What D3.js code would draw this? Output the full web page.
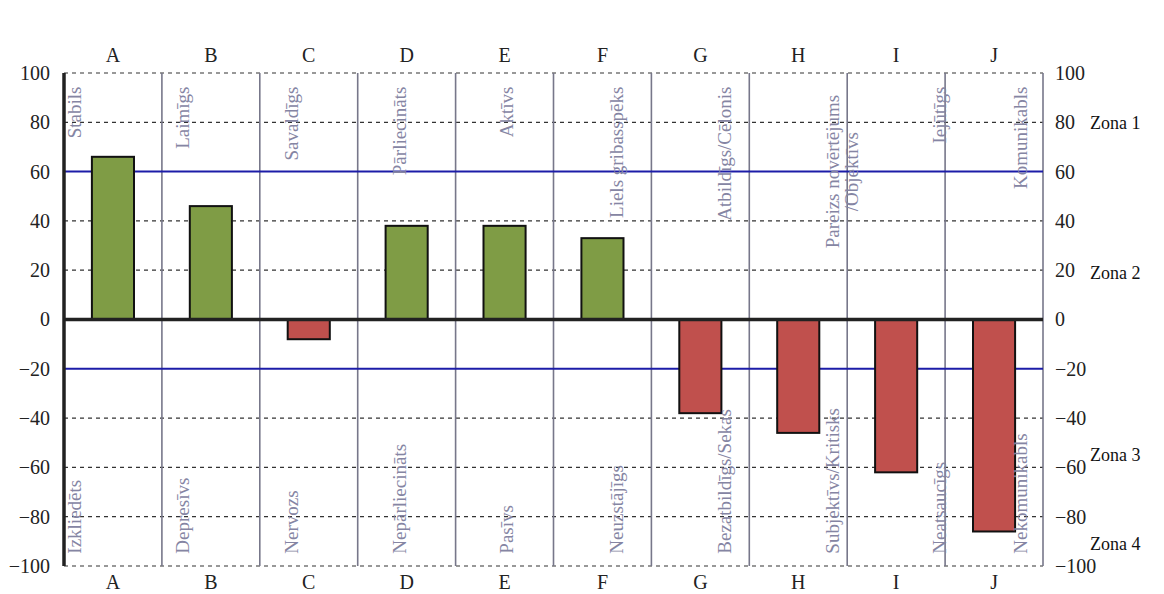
<html>
<head>
<meta charset="utf-8">
<title>Zonas</title>
<style>
body { margin: 0; background: #fff; }
svg text { font-family: "Liberation Serif", "DejaVu Serif", serif; }
.tick-lbl { font-size: 20px; fill: #222; }
.col-lbl { font-size: 20px; fill: #222; text-anchor: middle; }
.zone-lbl { font-size: 18px; fill: #111; }
.trait { font-size: 19px; fill: #8585a3; }
.grid line { stroke: #333; stroke-width: 1.2; stroke-dasharray: 4 4; }
.divider { stroke: #77778a; stroke-width: 1.6; }
.limit { stroke: #1c1ca8; stroke-width: 2; }
.bar { stroke: #111; stroke-width: 2; }
</style>
</head>
<body>
<svg id="plot" width="1164" height="594"></svg>
<script src="https://cdn.jsdelivr.net/npm/d3@7/dist/d3.min.js"></script>
<script>
// columns and bar values
const columns = ['A', 'B', 'C', 'D', 'E', 'F', 'G', 'H', 'I', 'J'];
const values = [66, 46, -8, 38, 38, 33, -38, -46, -62, -86];

// trait names: positive pole on top, negative pole below
const topTraits = [
  ['Stabils'], ['Laimīgs'], ['Savaldīgs'], ['Pārliecināts'], ['Aktīvs'],
  ['Liels gribasspēks'], ['Atbildīgs/Cēlonis'], ['Pareizs novērtējums', '/Objektīvs'],
  ['Iejūtīgs'], ['Komunikabls']
];
const bottomTraits = [
  'Izkliedēts', 'Depresīvs', 'Nervozs', 'Nepārliecināts', 'Pasīvs',
  'Neuzstājīgs', 'Bezatbildīgs/Sekas', 'Subjektīvs/Kritisks', 'Neatsaucīgs', 'Nekomunikabls'
];

const yTicks = [100, 80, 60, 40, 20, 0, -20, -40, -60, -80, -100];
const dashedAt = [100, 80, 40, 20, -40, -60, -80, -100];
const limits = [60, -20];

const zoneNames = ['Zona 1', 'Zona 2', 'Zona 3', 'Zona 4'];
const zoneAt = [80, 19, -55, -91];

// the trait text boxes sit on their own grid (in column units)
const traitSlot = [0.11, 1.22, 2.33, 3.43, 4.53, 5.65, 6.75, 7.85, 8.95, 9.78];

const svg = d3.select('#plot');
const plotL = 64, plotR = 1043, plotT = 73, plotB = 566;

const x = d3.scaleBand().domain(columns).range([plotL, plotR]).padding(0);
const y = d3.scaleLinear().domain([-100, 100]).range([plotB, plotT]);
const slot = d3.scaleLinear().domain([0, 10]).range([plotL, plotR]);

// dashed gridlines
svg.append('g').attr('class', 'grid')
  .selectAll('line').data(dashedAt).join('line')
  .attr('x1', plotL).attr('x2', plotR)
  .attr('y1', d => y(d)).attr('y2', d => y(d));

// column dividers
svg.append('g').selectAll('line')
  .data(columns.slice(1).map(c => x(c)).concat([plotR]))
  .join('line').attr('class', 'divider')
  .attr('x1', d => d).attr('x2', d => d)
  .attr('y1', y(100)).attr('y2', y(-100));

// blue limit lines
svg.append('g').selectAll('line').data(limits).join('line')
  .attr('class', 'limit')
  .attr('x1', plotL).attr('x2', plotR)
  .attr('y1', d => y(d)).attr('y2', d => y(d));

// bars
const bw = x.bandwidth() * 0.43;
svg.append('g').selectAll('rect').data(values).join('rect')
  .attr('class', 'bar')
  .attr('x', (d, i) => x(columns[i]) + (x.bandwidth() - bw) / 2)
  .attr('width', bw)
  .attr('y', d => y(Math.max(0, d)))
  .attr('height', d => Math.abs(y(d) - y(0)))
  .attr('fill', d => d >= 0 ? '#7f9c45' : '#c0504d');

// zero line and left axis
svg.append('line').attr('x1', plotL).attr('x2', plotR)
  .attr('y1', y(0)).attr('y2', y(0))
  .attr('stroke', '#222').attr('stroke-width', 3.5);
svg.append('line').attr('x1', plotL).attr('x2', plotL)
  .attr('y1', y(100)).attr('y2', y(-100))
  .attr('stroke', '#222').attr('stroke-width', 3.5);

// value axes, both sides
const yl = d3.axisLeft(y).tickValues(yTicks).tickSize(0).tickPadding(14);
const yr = d3.axisRight(y).tickValues(yTicks).tickSize(0).tickPadding(12);
svg.append('g').attr('transform', `translate(${plotL},0)`).call(yl)
  .call(g => g.select('.domain').remove());
svg.append('g').attr('transform', `translate(${plotR},0)`).call(yr)
  .call(g => g.select('.domain').remove());

// column letters on top and bottom
const xt = d3.axisTop(x).tickSize(0).tickPadding(11);
const xb = d3.axisBottom(x).tickSize(0).tickPadding(9);
svg.append('g').attr('transform', `translate(0,${plotT})`).call(xt)
  .call(g => g.select('.domain').remove());
svg.append('g').attr('transform', `translate(0,${plotB})`).call(xb)
  .call(g => g.select('.domain').remove());

svg.selectAll('.tick text').attr('class', 'tick-lbl');
svg.selectAll('g[font-family]').attr('font-family', null).attr('font-size', null);

// trait labels (rotated)
topTraits.forEach((lines, i) => {
  const cx = slot(traitSlot[i]);
  if (lines.length === 1) {
    svg.append('text').attr('class', 'trait')
      .attr('transform', `translate(${cx + 6},${y(94.5)}) rotate(-90)`)
      .attr('text-anchor', 'end')
      .text(lines[0]);
  } else {
    const t = svg.append('text').attr('class', 'trait')
      .attr('transform', `translate(${cx + 6},${y(60)}) rotate(-90)`)
      .attr('text-anchor', 'middle');
    lines.forEach((s, k) => t.append('tspan').attr('x', 0).attr('dy', k ? 19 : 0).text(s));
  }
});
bottomTraits.forEach((s, i) => {
  svg.append('text').attr('class', 'trait')
    .attr('transform', `translate(${slot(traitSlot[i]) + 6},${y(-95)}) rotate(-90)`)
    .attr('text-anchor', 'start')
    .text(s);
});

// zone labels
svg.append('g').selectAll('text').data(zoneNames).join('text')
  .attr('class', 'zone-lbl')
  .attr('x', 1090).attr('y', (d, i) => y(zoneAt[i]))
  .attr('dy', '0.35em')
  .text(d => d);
</script>
</body>
</html>
